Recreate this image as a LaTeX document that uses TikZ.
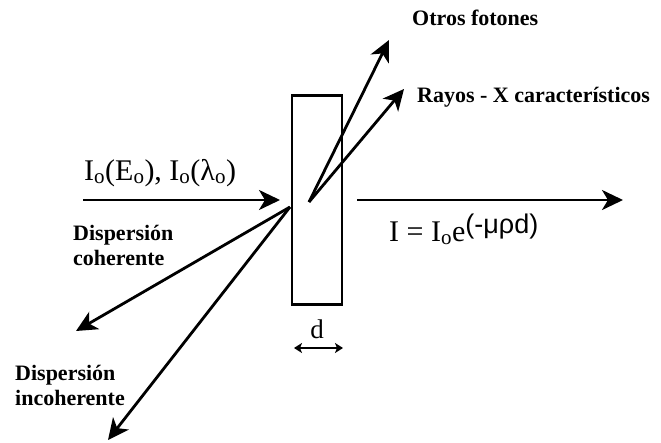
\documentclass[tikz,border=0pt]{standalone}
\usepackage{fontspec}
\setmainfont{Liberation Serif}
\newfontfamily\sansfnt{Liberation Sans}
\usetikzlibrary{arrows.meta,positioning}
\tikzset{
  >={Stealth[length=21pt,width=20pt,inset=6pt]},
  ray/.style={->,line width=2.8pt},
  slabbox/.style={draw,line width=2.4pt,minimum width=50pt,
    minimum height=209pt,inner sep=0pt},
  raylbl/.style={font=\bfseries\fontsize{22}{25}\selectfont,inner sep=0pt},
  eqlbl/.style={font=\fontsize{30}{34}\selectfont,inner sep=0pt},
  widthlbl/.style={font=\fontsize{27}{30}\selectfont,inner sep=0pt},
}

\begin{document}
\begin{tikzpicture}[x=1pt,y=-1pt]
  \useasboundingbox (0,0) rectangle (661,442);
  % slab
  \node[slabbox] (slab) at (317,200) {};
  % end points of the rays
  \coordinate (src) at (83,200);
  \coordinate (inTip) at (280,200);
  \coordinate (hit) at (290,207);
  \coordinate (emit) at (309,202);
  \coordinate (outA) at (357,200);
  \coordinate (outB) at (623,200);
  \coordinate (otros) at (389,40);
  \coordinate (rayx) at (404,89);
  \coordinate (coh) at (76,331);
  \coordinate (incoh) at (108,440);
  \coordinate (dL) at (294,348);
  \coordinate (dR) at (343,348);
  % rays
  \draw[ray] (src) -- (inTip);
  \draw[ray] (outA) -- (outB);
  \foreach \t in {otros,rayx} {
    \draw[ray] (emit) -- (\t);
  }
  \foreach \t in {coh,incoh} {
    \draw[ray] (hit) -- (\t);
  }
  \draw[<->,>={Stealth[length=8pt,width=10pt,inset=2pt]},line width=1.5pt]
    (dL) -- (dR);
  % labels
  \node[eqlbl,anchor=base west] (inlbl) at (84,180)
    {I\textsubscript{o}(E\textsubscript{o}), I\textsubscript{o}(λ\textsubscript{o})};
  \node[eqlbl,anchor=base west] (outlbl) at (389,241)
    {I = I\textsubscript{o}e\raisebox{8pt}{\fontsize{27}{30}\sansfnt(-μρd)}};
  \node[widthlbl,anchor=base] (dlbl) at (317,338) {d};
  \node[raylbl,anchor=base west] (otroslbl) at (412,25) {Otros fotones};
  \node[raylbl,anchor=base west] (rayxlbl) at (417,102) {Rayos - X característicos};
  \node[raylbl,anchor=base west,align=left] (cohlbl) at (73,265)
    {Dispersión\\coherente};
  \node[raylbl,anchor=base west,align=left] (incohlbl) at (15,405)
    {Dispersión\\incoherente};
\end{tikzpicture}
\end{document}
